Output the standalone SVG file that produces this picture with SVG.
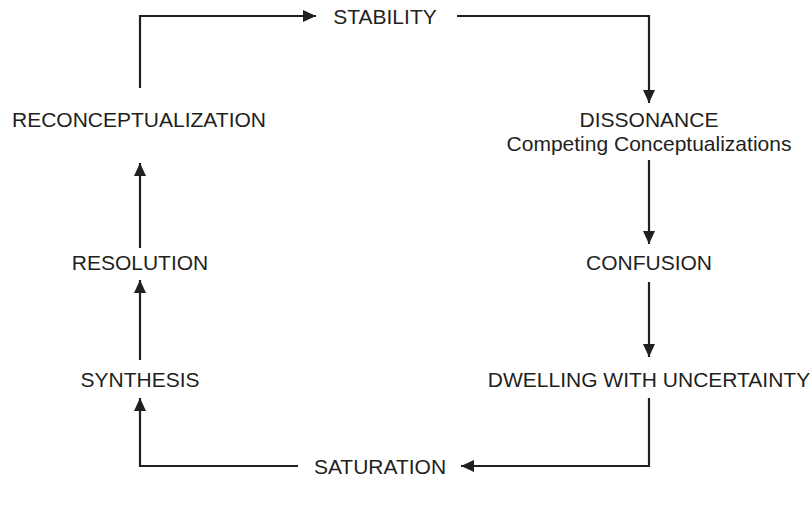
<svg xmlns="http://www.w3.org/2000/svg" width="812" height="506" viewBox="0 0 812 506">
<defs>
<marker id="ah" viewBox="0 0 13 12" refX="13" refY="6" markerWidth="13" markerHeight="12" markerUnits="userSpaceOnUse" orient="auto">
<path d="M0,0 L13,6 L0,12 z" fill="#231f20"/>
</marker>
</defs>
<style>
text{font-family:"Liberation Sans",Arial,sans-serif;font-size:21px;fill:#231f20;text-anchor:middle}
.c{fill:none;stroke:#231f20;stroke-width:2.2;marker-end:url(#ah)}
</style>
<rect width="812" height="506" fill="#fff"/>
<g id="connectors">
<path class="c" d="M140,88 V16 H316"/>
<path class="c" d="M457,16 H649 V103"/>
<path class="c" d="M649,160 V244"/>
<path class="c" d="M649,282 V357"/>
<path class="c" d="M649,398 V466 H461"/>
<path class="c" d="M298,466 H140 V398"/>
<path class="c" d="M140,360 V280"/>
<path class="c" d="M140,248 V163"/>
</g>
<g id="stability"><text x="385" y="24">STABILITY</text></g>
<g id="dissonance"><text x="649" y="127">DISSONANCE</text><text x="649" y="151">Competing Conceptualizations</text></g>
<g id="confusion"><text x="649" y="270">CONFUSION</text></g>
<g id="dwelling"><text x="649" y="387">DWELLING WITH UNCERTAINTY</text></g>
<g id="saturation"><text x="380" y="474">SATURATION</text></g>
<g id="synthesis"><text x="140" y="387">SYNTHESIS</text></g>
<g id="resolution"><text x="140" y="270">RESOLUTION</text></g>
<g id="reconceptualization"><text x="139" y="127">RECONCEPTUALIZATION</text></g>
</svg>
